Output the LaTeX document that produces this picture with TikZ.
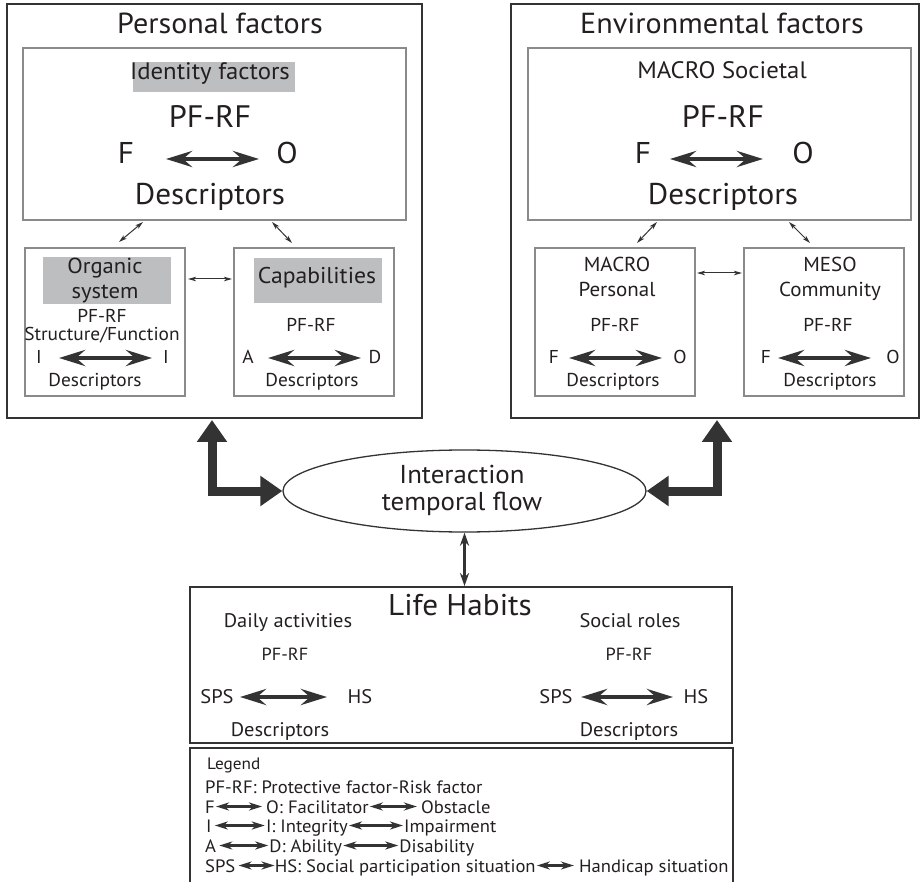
\documentclass[tikz,border=0pt]{standalone}
\usepackage{fontspec}
\setmainfont{PT Sans}[FakeStretch=1.04]
\usetikzlibrary{arrows.meta,shapes.geometric,calc}
\definecolor{ink}{HTML}{231F20}
\definecolor{linedark}{HTML}{333333}
\definecolor{lineinner}{HTML}{8A8A8A}
\definecolor{hilite}{HTML}{BDBEC0}
\newcommand{\fs}[1]{\fontsize{\fpeval{#1*1.035}}{\fpeval{#1*1.035}}\selectfont}
\tikzset{
  outerbox/.style={draw=linedark,line width=1.8pt,inner sep=0pt},
  innerbox/.style={draw=lineinner,line width=1.1pt,inner sep=0pt},
  hibox/.style={fill=hilite,inner sep=0pt},
  txt/.style={inner sep=0pt,anchor=base,text=ink},
  lgt/.style={inner sep=0pt,anchor=base west,text=ink,font=\fs{17.3}},
  bigarr/.style={{Stealth[length=26pt,width=16pt,inset=9pt]}-{Stealth[length=26pt,width=16pt,inset=9pt]},line width=4.4pt,draw=linedark},
  thinarr/.style={{Stealth[length=8pt,width=4.5pt,inset=2pt]}-{Stealth[length=8pt,width=4.5pt,inset=2pt]},line width=1pt,draw=linedark},
  vertarr/.style={{Stealth[length=13pt,width=9pt,inset=4pt]}-{Stealth[length=13pt,width=9pt,inset=4pt]},line width=2.4pt,draw=linedark},
  Larr/.style={{Triangle[length=22pt,width=29pt]}-{Triangle[length=22pt,width=29pt]},line width=9pt,draw=linedark,line join=miter},
  legarr/.style={{Stealth[length=13pt,width=8pt,inset=4pt]}-{Stealth[length=13pt,width=8pt,inset=4pt]},line width=2.4pt,draw=linedark},
}
\begin{document}
\begin{tikzpicture}[x=1pt,y=-1pt]
\useasboundingbox (0,0) rectangle (924,882);
% ---------- boxes ----------
\node[outerbox,minimum width=415pt,minimum height=414pt] (pfbox) at (214.5,211) {};
\node[outerbox,minimum width=408pt,minimum height=414pt] (efbox) at (715,211) {};
\node[innerbox,minimum width=383pt,minimum height=172pt] (idbox) at (214.5,134) {};
\node[innerbox,minimum width=160pt,minimum height=148pt] (orgbox) at (105,322) {};
\node[innerbox,minimum width=160pt,minimum height=148pt] (capbox) at (314,322) {};
\node[innerbox,minimum width=383pt,minimum height=172pt] (socbox) at (719.5,134) {};
\node[innerbox,minimum width=160pt,minimum height=148pt] (perbox) at (615,322) {};
\node[innerbox,minimum width=160pt,minimum height=148pt] (mesobox) at (824,322) {};
\node[outerbox,minimum width=542pt,minimum height=156pt] (lifebox) at (461,665) {};
\node[outerbox,minimum width=543pt,minimum height=140pt] (legbox) at (461.5,818) {};
\node[draw=linedark,line width=1.3pt,ellipse,minimum width=363pt,minimum height=82pt,inner sep=0pt] (ell) at (464.5,491) {};
% ---------- highlight rectangles ----------
\node[hibox,minimum width=162pt,minimum height=30pt] (idhi) at (214,77) {};
\node[hibox,minimum width=128pt,minimum height=47pt] (orghi) at (107,280.5) {};
\node[hibox,minimum width=128pt,minimum height=45pt] (caphi) at (318,280.5) {};
% ---------- Personal factors ----------
\node[txt,font=\fs{28}] (pft) at (220,34) {Personal factors};
\node[txt,font=\fs{23}] (idt) at (210,80) {Identity factors};
\node[txt,font=\fs{30}] (idpf) at (210,128) {PF-RF};
\node[txt,font=\fs{29}] (idF) at (126,164) {F};
\node[txt,font=\fs{29}] (idO) at (287,164) {O};
\node[txt,font=\fs{29}] (idd) at (210,205) {Descriptors};
\coordinate (idaL) at (166,159); \coordinate (idaR) at (259,159);
\draw[bigarr] (idaL) -- (idaR);
\node[txt,font=\fs{21}] (orgt1) at (105,274) {Organic};
\node[txt,font=\fs{21}] (orgt2) at (105,299) {system};
\node[txt,font=\fs{18}] (orgpf) at (102,323) {PF-RF};
\node[txt,font=\fs{18}] (orgsf) at (102,341) {Structure/Function};
\node[txt,font=\fs{18}] (orgI1) at (39,364) {I};
\node[txt,font=\fs{18}] (orgI2) at (166,364) {I};
\node[txt,font=\fs{18}] (orgd) at (95,387) {Descriptors};
\coordinate (orgaL) at (59,358); \coordinate (orgaR) at (152,358);
\draw[bigarr] (orgaL) -- (orgaR);
\node[txt,font=\fs{22}] (capt) at (317,284) {Capabilities};
\node[txt,font=\fs{18}] (cappf) at (311,332) {PF-RF};
\node[txt,font=\fs{18}] (capA) at (248,364) {A};
\node[txt,font=\fs{18}] (capD) at (375,364) {D};
\node[txt,font=\fs{18}] (capd) at (312,387) {Descriptors};
\coordinate (capaL) at (268,358); \coordinate (capaR) at (361,358);
\draw[bigarr] (capaL) -- (capaR);
% thin links personal
\coordinate (l1a) at (143,222); \coordinate (l1b) at (119,242);
\coordinate (l2a) at (272,222); \coordinate (l2b) at (292,243);
\coordinate (l3a) at (188,279); \coordinate (l3b) at (232,279);
\draw[thinarr] (l1a) -- (l1b);
\draw[thinarr] (l2a) -- (l2b);
\draw[thinarr] (l3a) -- (l3b);
% ---------- Environmental factors ----------
\node[txt,font=\fs{28}] (eft) at (722,34) {Environmental factors};
\node[txt,font=\fs{23}] (soct) at (722,79) {MACRO Societal};
\node[txt,font=\fs{30}] (socpf) at (723,128) {PF-RF};
\node[txt,font=\fs{29}] (socF) at (643,164) {F};
\node[txt,font=\fs{29}] (socO) at (803,164) {O};
\node[txt,font=\fs{29}] (socd) at (723,205) {Descriptors};
\coordinate (socaL) at (670,159); \coordinate (socaR) at (763,159);
\draw[bigarr] (socaL) -- (socaR);
\node[txt,font=\fs{19.5}] (pert1) at (617,272) {MACRO};
\node[txt,font=\fs{19.5}] (pert2) at (617,297) {Personal};
\node[txt,font=\fs{18}] (perpf) at (615,332) {PF-RF};
\node[txt,font=\fs{18}] (perF) at (554,364) {F};
\node[txt,font=\fs{18}] (perO) at (680,364) {O};
\node[txt,font=\fs{18}] (perd) at (613,387) {Descriptors};
\coordinate (peraL) at (569,358); \coordinate (peraR) at (662,358);
\draw[bigarr] (peraL) -- (peraR);
\node[txt,font=\fs{19.5}] (mesot1) at (830,272) {MESO};
\node[txt,font=\fs{19.5}] (mesot2) at (830,297) {Community};
\node[txt,font=\fs{18}] (mesopf) at (828,332) {PF-RF};
\node[txt,font=\fs{18}] (mesoF) at (766,364) {F};
\node[txt,font=\fs{18}] (mesoO) at (893,364) {O};
\node[txt,font=\fs{18}] (mesod) at (830,387) {Descriptors};
\coordinate (mesoaL) at (778,358); \coordinate (mesoaR) at (871,358);
\draw[bigarr] (mesoaL) -- (mesoaR);
% thin links environment
\coordinate (l4a) at (657,222); \coordinate (l4b) at (637,243);
\coordinate (l5a) at (789,222); \coordinate (l5b) at (810,243);
\coordinate (l6a) at (697,273); \coordinate (l6b) at (742,273);
\draw[thinarr] (l4a) -- (l4b);
\draw[thinarr] (l5a) -- (l5b);
\draw[thinarr] (l6a) -- (l6b);
% ---------- Interaction ----------
\node[txt,font=\fs{25}] (int1) at (462,483) {Interaction};
\node[txt,font=\fs{25}] (int2) at (462,510) {temporal flow};
\coordinate (pfk) at (212,420);
\coordinate (efk) at (717,420);
\draw[Larr] (ell.west) -| (pfk);
\draw[Larr] (ell.east) -| (efk);
\draw[vertarr] (ell.south) -- (lifebox.north -| ell.south);
% ---------- Life Habits ----------
\node[txt,font=\fs{29}] (lht) at (460,615) {Life Habits};
\node[txt,font=\fs{19}] (dat) at (288,627) {Daily activities};
\node[txt,font=\fs{17}] (dapf) at (285,660) {PF-RF};
\node[txt,font=\fs{19}] (daS) at (217,703) {SPS};
\node[txt,font=\fs{19}] (daH) at (360,703) {HS};
\node[txt,font=\fs{19}] (dad) at (280,736) {Descriptors};
\coordinate (daaL) at (240,697); \coordinate (daaR) at (327,697);
\draw[bigarr] (daaL) -- (daaR);
\node[txt,font=\fs{19}] (srt) at (630,627) {Social roles};
\node[txt,font=\fs{17}] (srpf) at (629,660) {PF-RF};
\node[txt,font=\fs{19}] (srS) at (556,703) {SPS};
\node[txt,font=\fs{19}] (srH) at (696,703) {HS};
\node[txt,font=\fs{19}] (srd) at (629,736) {Descriptors};
\coordinate (sraL) at (581,697); \coordinate (sraR) at (673,697);
\draw[bigarr] (sraL) -- (sraR);
% ---------- Legend ----------
\node[lgt,font=\fs{16}] (lg0) at (207,769) {Legend};
\node[lgt] (lg1) at (205,793) {PF-RF: Protective factor-Risk factor};
% line 2
\node[lgt] (lg2a) at (205,813) {F};
\draw[legarr] ($(lg2a.base east)+(1,-6.5)$) -- ++(46,0) coordinate (lg2ae);
\node[lgt] (lg2b) at ($(lg2ae)+(4,6.5)$) {O: Facilitator};
\draw[legarr] ($(lg2b.base east)+(1,-6.5)$) -- ++(47,0) coordinate (lg2be);
\node[lgt] (lg2c) at ($(lg2be)+(4,6.5)$) {Obstacle};
% line 3
\node[lgt] (lg3a) at (206,832) {I};
\draw[legarr] ($(lg3a.base east)+(3,-6.5)$) -- ++(50,0) coordinate (lg3ae);
\node[lgt] (lg3b) at ($(lg3ae)+(1,6.5)$) {I: Integrity};
\draw[legarr] ($(lg3b.base east)+(1,-6.5)$) -- ++(54,0) coordinate (lg3be);
\node[lgt] (lg3c) at ($(lg3be)+(1,6.5)$) {Impairment};
% line 4
\node[lgt] (lg4a) at (205,852) {A};
\draw[legarr] ($(lg4a.base east)+(3,-6.5)$) -- ++(49,0) coordinate (lg4ae);
\node[lgt] (lg4b) at ($(lg4ae)+(1,6.5)$) {D: Ability};
\draw[legarr] ($(lg4b.base east)+(1,-6.5)$) -- ++(55,0) coordinate (lg4be);
\node[lgt] (lg4c) at ($(lg4be)+(1,6.5)$) {Disability};
% line 5
\node[lgt] (lg5a) at (205,872) {SPS};
\draw[legarr] ($(lg5a.base east)+(3,-6.5)$) -- ++(36,0) coordinate (lg5ae);
\node[lgt] (lg5b) at ($(lg5ae)+(0,6.5)$) {HS: Social participation situation};
\draw[legarr] ($(lg5b.base east)+(1,-6.5)$) -- ++(37,0) coordinate (lg5be);
\node[lgt] (lg5c) at ($(lg5be)+(5,6.5)$) {Handicap situation};
\end{tikzpicture}
\end{document}
